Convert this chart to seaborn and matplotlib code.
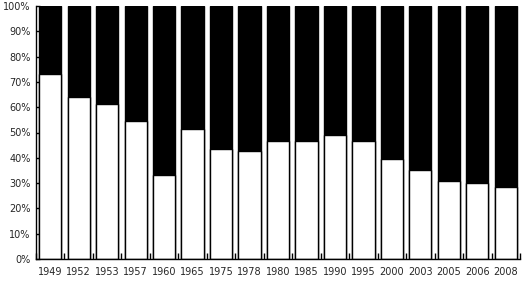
import matplotlib
matplotlib.use("Agg")
import matplotlib.pyplot as plt
import seaborn as sns
import pandas as pd
import numpy as np
from matplotlib.ticker import FixedLocator, PercentFormatter

years = ["1949", "1952", "1953", "1957", "1960", "1965", "1975", "1978", "1980",
         "1985", "1990", "1995", "2000", "2003", "2005", "2006", "2008"]
lower_share = [73.2, 64.1, 61.3, 54.7, 33.3, 51.4, 43.5, 42.7, 46.7,
               46.7, 49.1, 46.7, 39.6, 35.3, 31.0, 29.9, 28.6]
total = [100.0] * len(years)

df = pd.DataFrame({"year": years, "lower": lower_share, "total": total})

sns.set_style("white")
plt.rcParams["font.family"] = ["DejaVu Sans"]

fig = plt.figure(figsize=(5.23, 2.86), dpi=100)
ax = fig.add_axes([36/523, 27/286, 484/523, 253/286])

sns.barplot(data=df, x="year", y="total", color="black", width=0.78,
            edgecolor="black", linewidth=1, ax=ax)
sns.barplot(data=df, x="year", y="lower", color="white", width=0.78,
            edgecolor="black", linewidth=1, ax=ax)

ax.set_xlim(-0.5, len(years) - 0.5)
ax.set_ylim(0, 100)
ax.set_xlabel("")
ax.set_ylabel("")
ax.set_yticks(np.arange(0, 101, 10))
ax.yaxis.set_major_formatter(PercentFormatter(decimals=0))
ax.xaxis.set_minor_locator(FixedLocator(np.arange(-0.5, len(years), 1)))

for s in ["top", "right"]:
    ax.spines[s].set_visible(False)
for s in ["left", "bottom"]:
    ax.spines[s].set_color("black")
    ax.spines[s].set_linewidth(1)

ax.tick_params(axis="y", direction="in", length=3, width=1, color="black",
               labelsize=7, pad=4, left=True)
ax.tick_params(axis="x", which="major", length=0, labelsize=7, pad=6)
ax.tick_params(axis="x", which="minor", direction="in", length=4, width=1,
               color="black", bottom=True)

fig.savefig("out.png", dpi=100)
